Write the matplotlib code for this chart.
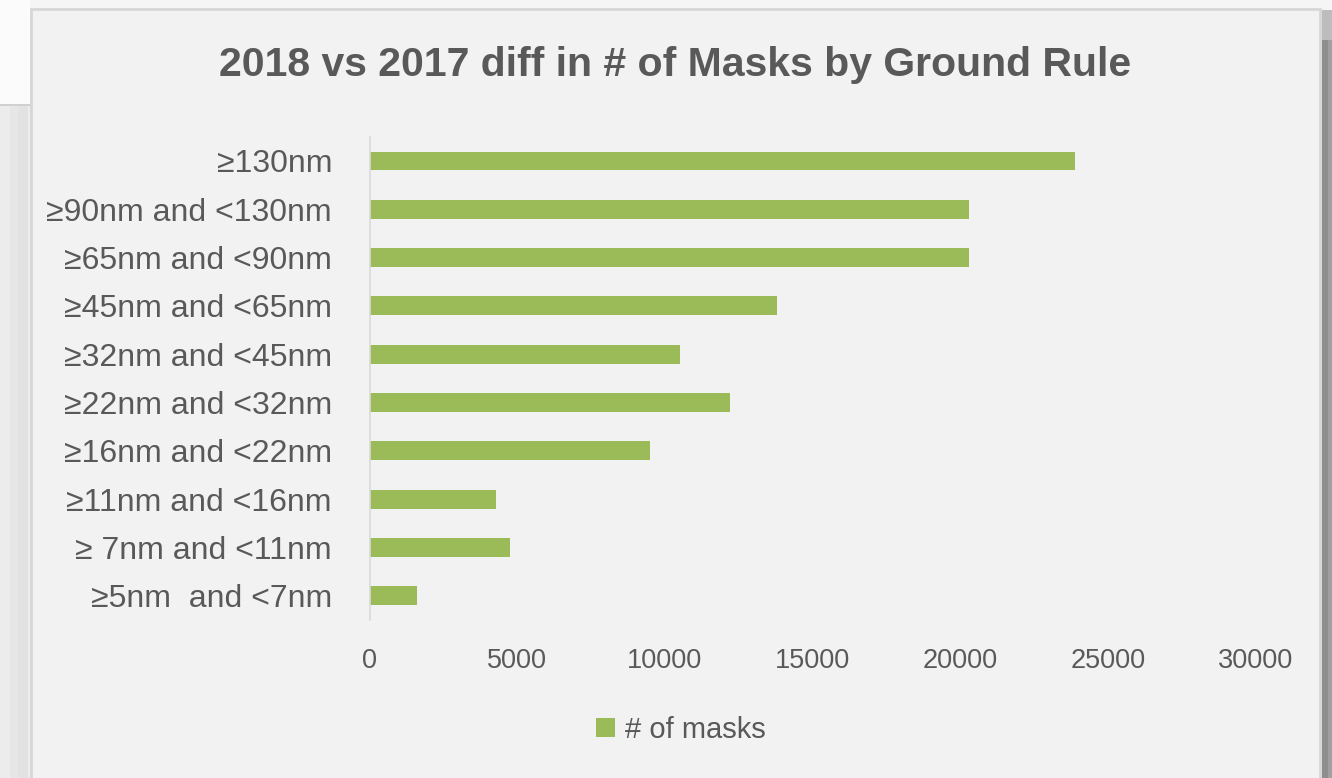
import matplotlib
matplotlib.use("Agg")
import matplotlib.pyplot as plt
from matplotlib.patches import Rectangle
from matplotlib.font_manager import fontManager

# Data
categories = [
    "≥130nm",
    "≥90nm and <130nm",
    "≥65nm and <90nm",
    "≥45nm and <65nm",
    "≥32nm and <45nm",
    "≥22nm and <32nm",
    "≥16nm and <22nm",
    "≥11nm and <16nm",
    "≥ 7nm and <11nm",
    "≥5nm  and <7nm",
]
masks = [23900, 20300, 20300, 13800, 10500, 12200, 9500, 4300, 4750, 1600]
xticks = [0, 5000, 10000, 15000, 20000, 25000, 30000]
series_name = "# of masks"
title = "2018 vs 2017 diff in # of Masks by Ground Rule"

names = {f.name for f in fontManager.ttflist}
narrow = "Liberation Sans Narrow" if "Liberation Sans Narrow" in names else "Liberation Sans"
plt.rcParams["font.family"] = [narrow, "DejaVu Sans"]

W, H = 1332, 778
fig = plt.figure(figsize=(W / 100, H / 100), dpi=100, facecolor="#f5f5f5")

def px_rect(x0, y0, x1, y1, **kw):
    # rectangle given in pixel coordinates measured from the top-left corner
    fig.patches.append(Rectangle((x0 / W, 1 - y1 / H), (x1 - x0) / W, (y1 - y0) / H,
                                 transform=fig.transFigure, figure=fig, zorder=-5, **kw))

# surrounding slide decoration
px_rect(0, 0, 30, 105, facecolor="#fbfbfb", edgecolor="none")
px_rect(0, 105, 30, 778, facecolor="#ececec", edgecolor="none")
px_rect(10, 105, 18, 778, facecolor="#e6e6e6", edgecolor="none")
px_rect(18, 105, 28, 778, facecolor="#e2e2e2", edgecolor="none")
px_rect(0, 104, 30, 106, facecolor="#d0d0d0", edgecolor="none")
px_rect(1322, 10, 1328, 778, facecolor="#8e8e8e", edgecolor="none")
px_rect(1328, 10, 1332, 778, facecolor="#a0a0a0", edgecolor="none")
px_rect(1322, 10, 1332, 40, facecolor="#bdbdbd", edgecolor="none")
# chart panel
px_rect(31, 9, 1320, 790, facecolor="#f2f2f2", edgecolor="#d6d6d6", linewidth=2)

text_color = "#595959"
bar_color = "#9bbb59"

ax = fig.add_axes([369.5 / W, 1 - 619.85 / H, 886 / W, (619.85 - 136.85) / H])
ax.set_zorder(1)
ax.set_facecolor("none")
y = list(range(len(categories)))
bars = ax.barh(y, masks, height=0.39, color=bar_color, label=series_name, zorder=2)
ax.set_xlim(0, 30000)
ax.set_ylim(len(categories) - 0.5, -0.5)
ax.set_yticks(y)
ax.set_yticklabels(categories)
ax.set_xticks(xticks)
ax.set_xticklabels([str(t) for t in xticks])
ax.tick_params(axis="y", length=0, pad=27, labelsize=23, labelcolor=text_color)
ax.tick_params(axis="x", length=0, pad=20, labelsize=19.5, labelcolor=text_color)
for s in ["top", "right", "bottom"]:
    ax.spines[s].set_visible(False)
ax.spines["left"].set_color("#d9d9d9")
ax.spines["left"].set_linewidth(1.2)

fig.text(675 / W, 1 - 65 / H, title, ha="center", va="center",
         fontsize=29.5, fontweight="bold", color=text_color)

leg = fig.legend(handles=[bars], labels=[series_name], loc="center",
                 bbox_to_anchor=(681 / W, 1 - 730 / H), frameon=False,
                 fontsize=21, handlelength=0.65, handleheight=0.65,
                 handletextpad=0.35, labelcolor=text_color)

fig.savefig("out.png", dpi=100, facecolor=fig.get_facecolor())
